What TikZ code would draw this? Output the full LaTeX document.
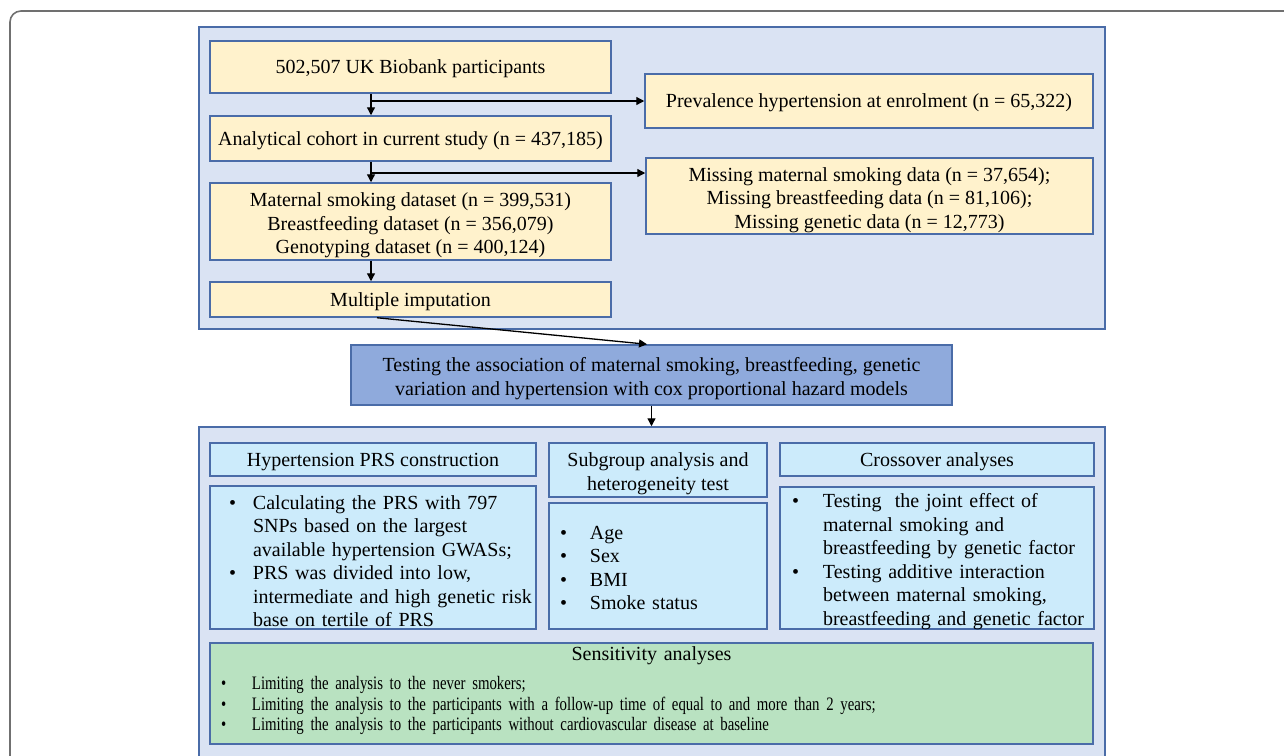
\documentclass[tikz,border=0pt]{standalone}
\usepackage{fontspec}
\setmainfont{Liberation Serif}
\newfontfamily\condserif[FakeStretch=0.78]{Liberation Serif}
\usetikzlibrary{arrows.meta,calc}
\definecolor{panel}{HTML}{DAE3F3}
\definecolor{pborder}{HTML}{4A6CA8}
\definecolor{yel}{HTML}{FFF2CC}
\definecolor{midblue}{HTML}{8FAADC}
\definecolor{lblue}{HTML}{CCEBFB}
\definecolor{lgreen}{HTML}{B9E2C1}
\definecolor{framegray}{HTML}{707070}
\newcommand\ctext[1]{\raisebox{-4pt}[\height][\depth]{\begin{tabular}{@{}c@{}}#1\end{tabular}}}
\newcommand\stext[1]{\raisebox{-2pt}[\height][\depth]{\begin{tabular}{@{}c@{}}#1\end{tabular}}}
\newcommand\btext[3]{\raisebox{#1}[\height][\depth]{\begin{tabular}{@{}p{#2}@{}l@{}}#3\end{tabular}}}
\begin{document}
\begin{tikzpicture}[x=1pt,y=-1pt,
  font=\fontsize{20}{23.5}\selectfont,
  panelbox/.style={draw=pborder, fill=panel, line width=1.5pt, inner sep=0pt},
  ybox/.style={draw=pborder, fill=yel, line width=1.5pt, inner sep=0pt, align=center},
  mbox/.style={draw=pborder, fill=midblue, line width=1.5pt, inner sep=0pt, align=center},
  lbox/.style={draw=pborder, fill=lblue, line width=1.5pt, inner sep=0pt, align=center},
  lbul/.style={draw=pborder, fill=lblue, line width=1.5pt, inner ysep=0pt, align=left},
  gbox/.style={draw=pborder, fill=lgreen, line width=1.5pt, inner ysep=0pt, align=left},
  arr/.style={-{Triangle[length=8pt,width=8pt]}, line width=1.3pt, black}]
\useasboundingbox (0,0) rectangle (1284,755);
\clip (0,0) rectangle (1284,755);
\draw[framegray, line width=1.6pt, rounded corners=11pt] (10,11) rectangle (1330,800);

% top panel
\node[panelbox, minimum width=906pt, minimum height=302pt] (P1) at (652,178) {};
\node[ybox, minimum width=401pt, minimum height=52pt] (A) at (410.5,67) {\stext{502,507 UK Biobank participants}};
\node[ybox, minimum width=401pt, minimum height=45pt] (B) at (410.5,138.5) {\stext{Analytical cohort in current study (n = 437,185)}};
\node[ybox, minimum width=401pt, minimum height=77pt] (C) at (410.5,221.5) {\ctext{Maternal smoking dataset (n = 399,531)\\Breastfeeding dataset (n = 356,079)\\Genotyping dataset (n = 400,124)}};
\node[ybox, minimum width=401pt, minimum height=35pt] (D) at (410.5,299.5) {\stext{Multiple imputation}};
\node[ybox, minimum width=448pt, minimum height=54pt] (E) at (869,101) {\stext{Prevalence hypertension at enrolment (n = 65,322)}};
\node[ybox, minimum width=447pt, minimum height=76pt] (F) at (869.5,196) {\ctext{Missing maternal smoking data (n = 37,654);\\Missing breastfeeding data (n = 81,106);\\Missing genetic data (n = 12,773)}};

% middle
\node[mbox, minimum width=601pt, minimum height=60pt] (M) at (651.5,375) {\ctext{Testing the association of maternal smoking, breastfeeding, genetic\\variation and hypertension with cox proportional hazard models}};

% bottom panel
\node[panelbox, minimum width=906pt, minimum height=343pt] (P2) at (652,598.5) {};
\node[lbox, minimum width=326pt, minimum height=33pt] (H) at (373,459.5) {\stext{Hypertension PRS construction}};
\node[lbul, minimum width=326pt, minimum height=143pt, inner xsep=19pt, text width=288pt] (HB) at (373,557.5)
  {\btext{-6pt}{24pt}{
  \textbullet & Calculating the PRS with 797\\
  & SNPs based on the largest\\
  & available hypertension GWASs;\\
  \textbullet & PRS was divided into low,\\
  & intermediate and high genetic risk\\
  & base on tertile of PRS}};
\node[lbox, minimum width=218pt, minimum height=54pt] (S) at (658,470) {\ctext{Subgroup analysis and\\heterogeneity test}};
\node[lbul, minimum width=218pt, minimum height=126pt, inner xsep=11pt, text width=196pt] (SB) at (658,566)
  {\btext{-4pt}{30pt}{
  \textbullet & Age\\
  \textbullet & Sex\\
  \textbullet & BMI\\
  \textbullet & Smoke status}};
\node[lbox, minimum width=314pt, minimum height=33pt] (X) at (937,459.5) {\stext{Crossover analyses}};
\node[lbul, minimum width=314pt, minimum height=142pt, inner xsep=12pt, text width=290pt] (XB) at (937,558)
  {\btext{-4pt}{31pt}{
  \textbullet & Testing~ the joint effect of\\
  & maternal smoking and\\
  & breastfeeding by genetic factor\\
  \textbullet & Testing additive interaction\\
  & between maternal smoking,\\
  & breastfeeding and genetic factor}};
\node[gbox, minimum width=883pt, minimum height=101pt, inner xsep=11pt, text width=861pt] (G) at (651.5,693.5)
  {\makebox[\linewidth][c]{\raisebox{1.5pt}[\height][\depth]{Sensitivity analyses}}\\[11pt]
  {\fontsize{19}{20.5}\condserif\btext{2.5pt}{31pt}{
  \textbullet & Limiting the analysis to the never smokers;\\
  \textbullet & Limiting the analysis to the participants with a follow-up time of equal to and more than 2 years;\\
  \textbullet & Limiting the analysis to the participants without cardiovascular disease at baseline}}};

% connectors
\coordinate (ax) at (371,0);
\coordinate (j1) at (371,101);
\coordinate (j2) at (371,173);
\draw[arr] (A.south -| ax) -- (B.north -| ax);
\draw[arr] (j1) -- (E.west);
\draw[arr] (B.south -| ax) -- (C.north -| ax);
\draw[arr] (j2) -- (F.west |- j2);
\draw[arr] (C.south -| ax) -- (D.north -| ax);
\coordinate (d1) at (377,0);
\coordinate (m1) at (647,0);
\draw[arr] (D.south -| d1) -- (M.north -| m1);
\draw[arr] (M.south) -- (M.south |- P2.north);
\end{tikzpicture}
\end{document}
